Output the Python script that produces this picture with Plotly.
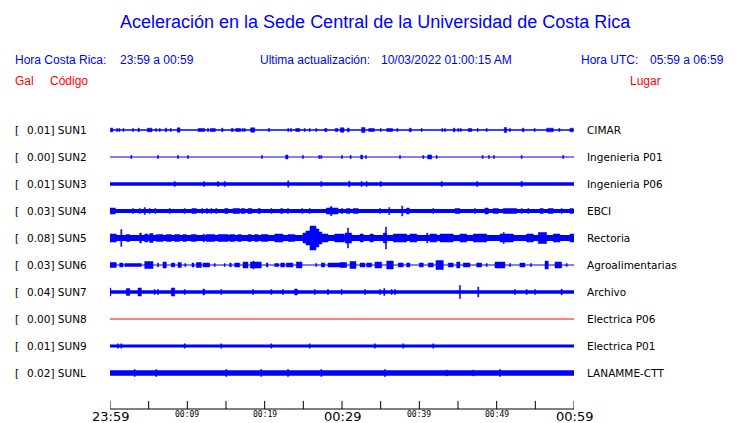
import plotly.graph_objects as go

# ---------------- data ----------------
codes = ["SUN1", "SUN2", "SUN3", "SUN4", "SUN5", "SUN6", "SUN7", "SUN8", "SUN9", "SUNL"]
gal_max = [0.01, 0.00, 0.01, 0.03, 0.08, 0.03, 0.04, 0.00, 0.01, 0.02]
places = ["CIMAR", "Ingenieria P01", "Ingenieria P06", "EBCI", "Rectoria",
          "Agroalimentarias", "Archivo", "Electrica P06", "Electrica P01", "LANAMME-CTT"]

# background half-thickness of each trace (amplitude units)
base_amp = [0.7, 0.5, 1.8, 2.0, 3.0, 0.5, 1.7, 0.5, 1.5, 2.7]

# bursts: (start minute, end minute, half amplitude)
bursts_sun1 = [(0.09, 0.35, 2), (0.9, 0.9, 1.5), (1.2, 1.2, 1.5), (1.68, 1.81, 1.5), (2.97, 2.97, 1.5),
               (3.71, 3.71, 2), (4.82, 5.43, 1.8), (5.95, 5.95, 1.5), (6.43, 6.43, 1.5), (7.15, 7.33, 1.8),
               (7.85, 7.85, 1.5), (8.70, 9.05, 2.2), (11.38, 12.24, 1.5), (12.67, 12.67, 1.5),
               (12.97, 13.62, 1.5), (14.44, 14.61, 1.8), (15.68, 15.94, 1.5), (16.25, 16.9, 1.5),
               (17.16, 17.16, 1.5), (17.42, 17.42, 1.5), (18.19, 18.71, 2.2), (20.47, 20.65, 1.5),
               (23.05, 23.05, 1.5), (23.4, 23.4, 1.5), (24.01, 24.53, 1.5), (25.17, 25.17, 1.5),
               (25.82, 25.82, 1.5), (26.67, 26.67, 1.5), (27.76, 28.06, 1.5), (29.13, 29.48, 1.5),
               (29.78, 30.26, 2.2), (30.68, 30.94, 1.8), (32.54, 32.97, 2.5), (33.45, 34.17, 1.5),
               (35.0, 35.0, 1.5), (35.78, 36.55, 1.5), (37.15, 37.15, 1.5), (38.7, 38.96, 1.8),
               (40.3, 40.3, 1.5), (42.97, 42.97, 1.5), (43.32, 43.32, 1.5), (44.39, 44.61, 1.8),
               (45.04, 45.04, 1.5), (45.35, 45.35, 1.5), (46.33, 46.77, 1.5), (47.54, 47.54, 1.5),
               (48.71, 48.71, 1.5), (50.98, 51.29, 2.5), (51.72, 51.72, 1.5), (53.31, 53.53, 1.8),
               (54.91, 54.91, 1.5), (56.46, 57.32, 1.8), (58.1, 58.1, 1.5), (59.48, 59.9, 1.8)]

bursts_sun2 = [(2.75, 2.75, 1.5), (6.21, 6.21, 1.5), (8.79, 8.79, 1.5), (10.09, 10.09, 1.5),
               (19.65, 19.65, 1.5), (22.72, 23.02, 2), (24.95, 24.95, 1.5), (27.06, 27.06, 1.5),
               (27.32, 27.32, 1.5), (30.0, 30.0, 1.5), (31.12, 31.12, 1.5), (32.42, 32.68, 2),
               (33.1, 33.1, 1.5), (37.5, 37.5, 1.5), (40.51, 40.51, 1.5), (41.08, 41.6, 2),
               (42.24, 42.24, 1.5), (48.19, 48.19, 1.5), (49.0, 49.0, 1.5), (49.65, 49.65, 1.5),
               (53.23, 53.23, 1.5), (58.61, 58.61, 1.5)]

bursts_sun3 = [(8.37, 8.37, 2.5), (12.15, 12.15, 2.5), (13.96, 13.96, 2.5), (14.83, 14.83, 2.5),
               (23.05, 23.05, 3.2), (27.32, 27.32, 2.5), (30.94, 30.94, 3), (32.54, 32.54, 2.5),
               (33.19, 33.19, 2.5), (35.0, 35.0, 2.5), (42.89, 42.89, 2.5), (47.49, 47.49, 2.5),
               (53.23, 53.23, 2.8)]

bursts_sun4 = [(0.0, 0.69, 3), (2.97, 2.97, 2.5), (3.84, 3.84, 2.5), (4.49, 4.49, 3.5), (5.13, 5.13, 2.5),
               (5.86, 5.86, 2.5), (7.72, 7.72, 2.5), (9.66, 9.66, 2.5), (10.6, 11.16, 2.5),
               (11.93, 11.93, 2.5), (12.54, 12.54, 2.5), (13.1, 13.1, 2.5), (13.74, 13.74, 2.5),
               (14.83, 15.26, 2.5), (15.9, 16.77, 2.5), (16.98, 17.42, 2.5), (17.84, 18.36, 2.5),
               (19.14, 19.43, 2.5), (20.86, 20.86, 2.5), (22.07, 22.33, 2.5), (23.02, 23.02, 2.5),
               (24.86, 24.86, 2.5), (25.82, 25.82, 2.5), (27.97, 29.48, 3), (28.5, 28.7, 4.5),
               (29.91, 30.1, 2.5), (30.6, 31.03, 2.5), (31.46, 32.1, 2.5), (34.91, 34.91, 2.5),
               (36.11, 36.11, 3.5), (37.79, 37.79, 5), (38.36, 38.7, 3), (41.8, 41.8, 2.5),
               (44.61, 45.25, 2.5), (47.19, 47.19, 2.5), (48.49, 48.91, 3), (49.56, 50.21, 2.5),
               (50.85, 52.59, 2.5), (53.23, 53.23, 2.5), (54.09, 54.09, 2.5), (55.6, 56.03, 2.5),
               (56.67, 57.32, 2.5), (58.4, 58.4, 2.5), (59.48, 59.9, 2.5)]

bursts_sun5 = [(0.0, 0.81, 4), (1.46, 1.46, 8.5), (2.11, 2.55, 3.5), (3.84, 4.05, 5), (4.49, 4.91, 4),
               (5.13, 5.56, 4.5), (5.99, 6.85, 3.5), (7.28, 7.93, 3.5), (8.37, 9.01, 3.5),
               (9.44, 9.87, 3.5), (10.51, 11.16, 3.5), (12.12, 12.12, 4), (12.45, 13.54, 3.5),
               (13.96, 15.26, 3.5), (15.48, 16.12, 3.5), (16.55, 16.98, 3.5), (17.84, 18.27, 3.5),
               (18.71, 19.14, 3.5), (19.56, 20.43, 3.5), (21.3, 22.37, 4), (23.02, 23.88, 3.5),
               (24.95, 25.34, 5), (25.34, 25.86, 7), (25.86, 26.64, 12), (26.64, 27.02, 9),
               (27.02, 27.41, 6), (27.41, 28.19, 4), (29.05, 30.26, 4), (30.39, 31.25, 5),
               (30.77, 30.77, 10), (32.33, 32.76, 4), (33.62, 34.05, 4), (35.34, 35.78, 5),
               (35.69, 35.69, 11), (36.63, 38.36, 4), (38.79, 39.66, 4), (41.03, 41.03, 5),
               (41.38, 42.24, 4), (42.67, 44.39, 4), (45.25, 46.12, 4), (46.98, 48.71, 4),
               (50.43, 52.15, 4), (50.91, 50.91, 5.5), (53.88, 54.74, 4), (55.38, 56.46, 5.5),
               (57.32, 58.18, 4), (59.48, 60.0, 4)]

bursts_sun6 = [(0.0, 0.81, 2.5), (1.25, 1.68, 2), (1.9, 4.05, 1.5), (4.49, 5.56, 3.5), (6.21, 6.21, 2),
               (6.85, 7.28, 3), (7.93, 8.37, 2), (8.79, 9.22, 2.5), (9.74, 9.74, 1.5), (10.6, 10.86, 2),
               (11.16, 11.81, 2.5), (12.02, 12.89, 2), (13.54, 13.54, 1.5), (14.83, 14.83, 1.5),
               (15.48, 15.68, 2), (16.12, 16.77, 2), (17.2, 17.84, 3), (18.14, 19.56, 3),
               (18.5, 18.6, 4), (20.21, 20.43, 2), (21.3, 21.81, 1.5), (22.07, 22.59, 2),
               (22.8, 23.66, 2), (24.09, 24.83, 3), (26.67, 26.67, 1.5), (27.32, 27.76, 2),
               (28.19, 30.26, 2), (29.74, 30.6, 2.5), (31.03, 31.81, 3.5), (32.33, 32.97, 2),
               (33.19, 33.84, 2), (34.26, 35.13, 3), (35.78, 36.63, 4), (37.28, 37.92, 2),
               (38.36, 38.79, 2), (39.99, 40.51, 2), (41.16, 41.8, 2), (42.15, 43.1, 4.5),
               (43.74, 44.39, 2), (44.83, 45.25, 3), (45.68, 46.55, 2), (47.41, 48.06, 2),
               (48.71, 48.71, 1.5), (49.78, 51.07, 3), (51.72, 51.72, 1.5), (53.01, 53.66, 2),
               (54.44, 54.44, 1.5), (56.25, 56.67, 4), (57.54, 58.4, 3), (59.05, 59.05, 1.5)]

bursts_sun7 = [(0.0, 0.09, 4), (2.11, 2.55, 3.5), (3.62, 4.05, 4), (5.78, 5.78, 2.5), (6.21, 6.21, 2.5),
               (7.93, 8.37, 4), (9.66, 9.66, 2.5), (12.02, 12.24, 3), (14.39, 14.39, 2.5),
               (18.49, 18.49, 2.5), (20.86, 20.86, 2.5), (22.37, 22.37, 2.5), (23.88, 24.22, 3),
               (26.47, 26.47, 2.5), (28.19, 28.19, 2.5), (29.96, 29.96, 2.5), (32.97, 32.97, 2.5),
               (34.91, 34.91, 2.5), (35.47, 35.47, 3.5), (36.42, 36.42, 2.5), (36.85, 36.85, 2.5),
               (45.25, 45.25, 6.5), (47.62, 47.62, 5), (52.37, 52.37, 2.5), (53.88, 53.88, 2.5),
               (54.95, 54.95, 2.5), (58.4, 58.4, 3)]

bursts_sun8 = []

bursts_sun9 = [(1.03, 1.03, 2.2), (1.46, 1.46, 2.2), (9.66, 9.66, 2.2), (14.39, 14.39, 2.2),
               (20.86, 20.86, 2.2), (25.82, 25.82, 2.2), (34.26, 34.26, 2.2), (37.92, 37.92, 2.2),
               (41.8, 41.8, 2.2)]

bursts_sunl = [(3.19, 3.19, 3.5), (5.99, 5.99, 3.5), (15.04, 15.04, 3.5), (19.56, 19.56, 3.5),
               (23.02, 23.02, 3.5), (27.32, 27.32, 3.5), (35.56, 35.56, 3.5), (43.54, 43.54, 3),
               (46.98, 46.98, 3), (50.43, 50.43, 3.5)]

all_bursts = [bursts_sun1, bursts_sun2, bursts_sun3, bursts_sun4, bursts_sun5,
              bursts_sun6, bursts_sun7, bursts_sun8, bursts_sun9, bursts_sunl]

tick_minutes = [0, 10, 20, 30, 40, 50, 60]
tick_labels = ["23:59", "00:09", "00:19", "00:29", "00:39", "00:49", "00:59"]
tick_major = [True, False, False, True, False, False, True]
minor_tick_minutes = list(range(0, 61, 5))

# ---------------- layout geometry ----------------
W, H = 740, 423
PL, PR, PT, PB = 110, 574, 110, 412      # plot area in pixels (extra room below axis)
AXIS_PY = 409                            # pixel row of the time axis
Y_SPAN = PB - PT                          # y axis in pixel-like units
ROW0 = PB - 130                           # first row centre
ROW_STEP = 27
MIN_W = 0.14                              # min burst width (minutes)
TXT_DX = -2                               # annotation inner padding compensation

BLUE = "#0000ff"
RED = "#ff0000"

fig = go.Figure()

for i, code in enumerate(codes):
    c = ROW0 - ROW_STEP * i
    col = RED if code == "SUN8" else BLUE
    b = base_amp[i]
    if b <= 0.6:
        fig.add_trace(go.Scatter(x=[0, 60], y=[c, c], mode="lines",
                                 line=dict(color=col, width=1), hoverinfo="skip", showlegend=False))
    else:
        fig.add_trace(go.Scatter(x=[0, 60, 60, 0, 0], y=[c - b, c - b, c + b, c + b, c - b],
                                 mode="lines", fill="toself", fillcolor=col,
                                 line=dict(color=col, width=0), hoverinfo="skip", showlegend=False))
    xs, ys = [], []
    for (t0, t1, a) in all_bursts[i]:
        if t1 - t0 < MIN_W:
            m = (t0 + t1) / 2
            t0, t1 = m - MIN_W / 2, m + MIN_W / 2
        t0 = max(t0, 0)
        t1 = min(t1, 60)
        xs += [t0, t1, t1, t0, t0, None]
        ys += [c - a, c - a, c + a, c + a, c - a, None]
    if xs:
        fig.add_trace(go.Scatter(x=xs, y=ys, mode="lines", fill="toself", fillcolor=col,
                                 line=dict(color=col, width=0.5), hoverinfo="skip",
                                 showlegend=False))

# time axis: baseline + ticks drawn as a single black line trace
axis_y = PB - AXIS_PY
ax_x = [0, 60, None]
ax_y = [axis_y, axis_y, None]
for t in minor_tick_minutes:
    ax_x += [t, t, None]
    ax_y += [axis_y, axis_y + 8, None]
fig.add_trace(go.Scatter(x=ax_x, y=ax_y, mode="lines", line=dict(color="black", width=1),
                         hoverinfo="skip", showlegend=False, cliponaxis=False))


def px2paper(px, py):
    return (px - PL) / (PR - PL), (PB - py) / (PB - PT)


annots = []


def add_text(text, px, py, size, color, family, xanchor="left"):
    if xanchor == "left":
        px += TXT_DX
    x, y = px2paper(px, py)
    annots.append(dict(text=text, x=x, y=y, xref="paper", yref="paper", xanchor=xanchor,
                       yanchor="middle", showarrow=False,
                       font=dict(size=size, color=color, family=family)))


SANS = "Liberation Sans, Arial, sans-serif"
DJ = "DejaVu Sans"

add_text("Aceleración en la Sede Central de la Universidad de Costa Rica", 375.5, 22, 18, BLUE, SANS, "center")
add_text("Hora Costa Rica:", 15, 60, 12, BLUE, SANS)
add_text("23:59 a 00:59", 120, 60, 12, BLUE, SANS)
add_text("Ultima actualización:", 260, 60, 12, BLUE, SANS)
add_text("10/03/2022 01:00:15 AM", 381, 60, 12, BLUE, SANS)
add_text("Hora UTC:", 581, 60, 12, BLUE, SANS)
add_text("05:59 a 06:59", 650, 60, 12, BLUE, SANS)
add_text("Gal", 15, 81, 12, RED, SANS)
add_text("Código", 50, 81, 12, RED, SANS)
add_text("Lugar", 630, 81, 12, RED, SANS)

for i, code in enumerate(codes):
    py = 130 + ROW_STEP * i
    add_text("[", 15, py, 10.5, "black", DJ)
    add_text(f"{gal_max[i]:.2f}] {code}", 27, py, 10.5, "black", DJ)
    add_text(places[i], 587, py, 10.5, "black", DJ)

for t, lab, major in zip(tick_minutes, tick_labels, tick_major):
    if major:
        annots.append(dict(text=lab, x=t, y=(PB - 416) / Y_SPAN, xref="x", yref="paper",
                           xanchor="center", yanchor="middle", showarrow=False,
                           font=dict(size=13, color="black", family="DejaVu Sans")))
    else:
        annots.append(dict(text=lab, x=t, y=(PB - 414) / Y_SPAN, xref="x", yref="paper",
                           xanchor="center", yanchor="middle", showarrow=False,
                           font=dict(size=8, color="black", family="DejaVu Sans Mono")))

fig.update_layout(
    width=W, height=H,
    margin=dict(l=PL, r=W - PR, t=PT, b=H - PB, pad=0),
    paper_bgcolor="white", plot_bgcolor="white",
    showlegend=False,
    xaxis=dict(range=[0, 60], visible=False, fixedrange=True),
    yaxis=dict(range=[0, Y_SPAN], visible=False, fixedrange=True),
    annotations=annots,
)

fig.write_html("out.html", config={"displayModeBar": False},
               post_script="document.body.style.margin='0';document.body.style.overflow='hidden';")
